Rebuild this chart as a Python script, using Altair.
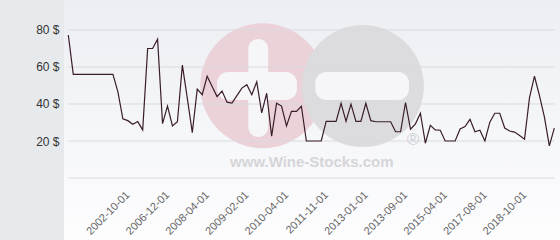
import json
import altair as alt
import pandas as pd

# ---- data ----
prices = [77.3, 56, 56, 56, 56, 56, 56, 56, 56, 56,
          46.6, 32, 31, 29, 30.5, 26, 70, 70, 75, 29.4,
          38.9, 28.1, 30.4, 61, 43, 24.5, 48, 45, 55, 49.5,
          44, 47, 41, 40.5, 44.5, 48.6, 50.4, 45, 52, 35.2,
          45.8, 22.6, 40.4, 38.9, 28.2, 36, 36, 38.8, 20, 20,
          20, 20, 30.6, 30.6, 30.6, 40.4, 30.6, 39.9, 30.6, 30.6,
          40.4, 31, 30.4, 30.4, 30.4, 30.4, 25, 25, 40.8, 26.4,
          29.3, 35, 18.8, 28.5, 26, 25.8, 20, 20, 20, 26.5,
          27.8, 31.7, 25, 25.8, 20, 30.2, 35, 35, 27, 25.4,
          24.8, 23, 21, 43.5, 55, 44.7, 33, 17.4, 27]
x_ticks = [12, 20, 28, 36, 44, 52, 60, 68, 76, 84, 92]
x_labels = ["2002-10-01", "2006-12-01", "2008-04-01", "2009-02-01",
            "2010-04-01", "2011-11-01", "2013-01-01", "2013-09-01",
            "2015-04-01", "2017-08-01", "2018-10-01"]
y_ticks = [20, 40, 60, 80]
grid_values = [0, 20, 40, 60, 80]

df = pd.DataFrame({"i": list(range(len(prices))), "price": prices})
grid_df = pd.DataFrame({"g": grid_values})

W, H = 496, 240
xscale = alt.Scale(domain=[-0.87, 99.15], nice=False, zero=False)
yscale = alt.Scale(domain=[-33.5, 96.2], nice=False, zero=False)

label_expr = f"{json.dumps(x_labels)}[indexof({json.dumps(x_ticks)}, datum.value)]"

x_axis = alt.Axis(
    values=x_ticks, labelExpr=label_expr, labelAngle=-45,
    labelAlign="right", labelBaseline="middle", labelPadding=15,
    labelFont="Liberation Sans", labelFontSize=11, labelColor="#666666",
    domain=False, ticks=False, grid=False, title=None, offset=-62,
    labelOverlap=False, zindex=1)
y_axis = alt.Axis(
    values=y_ticks, labelExpr="datum.value + ' $'", grid=False,
    domain=False, ticks=False, labelPadding=5, labelFont="Liberation Sans",
    labelFontSize=12, labelColor="#333333", title=None)

# ---- plot background (gradient) ----
gradient = alt.LinearGradient(
    gradient="linear",
    stops=[alt.GradientStop(color="#eceef3", offset=0),
           alt.GradientStop(color="#fdfdfe", offset=1)],
    x1=0, x2=0, y1=0, y2=1)
bg = alt.Chart(pd.DataFrame({"k": [0]})).mark_rect(color=gradient)

# ---- watermark (decoration) ----
wm_circles = pd.DataFrame({
    "cx": [39.2, 59.4], "cy": [49.9, 49.7],
    "col": ["#ebd2d8", "#dcdcdf"], "size": [15625, 14884]})
wm_bars = pd.DataFrame({
    "x0": [36.3, 30.0, 49.8], "x1": [40.3, 46.1, 68.7],
    "y0": [22.2, 42.2, 42.2], "y1": [75.1, 57.3, 57.3]})
wm_text = pd.DataFrame({"tx": [49.1], "ty": [5.9], "t": ["www.Wine-Stocks.com"]})
wm_reg = pd.DataFrame({"tx": [69.5], "ty": [20.5], "t": ["®"]})

circles = alt.Chart(wm_circles).mark_circle(opacity=1).encode(
    x=alt.X("cx:Q", scale=xscale, axis=x_axis),
    y=alt.Y("cy:Q", scale=yscale, axis=y_axis),
    color=alt.Color("col:N", scale=None),
    size=alt.Size("size:Q", scale=None),
)
bars = alt.Chart(wm_bars).mark_rect(color="#f6f6f9", cornerRadius=11).encode(
    x=alt.X("x0:Q", scale=xscale, axis=x_axis), x2="x1:Q",
    y=alt.Y("y0:Q", scale=yscale, axis=y_axis), y2="y1:Q",
)
text = alt.Chart(wm_text).mark_text(
    font="Liberation Sans", fontSize=15, fontWeight="bold", color="#d5d5d9",
    align="center", baseline="alphabetic").encode(
    x=alt.X("tx:Q", scale=xscale, axis=x_axis),
    y=alt.Y("ty:Q", scale=yscale, axis=y_axis), text="t:N")
reg = alt.Chart(wm_reg).mark_text(
    font="Liberation Sans", fontSize=17, color="#d0d0d4",
    align="center", baseline="middle").encode(
    x=alt.X("tx:Q", scale=xscale, axis=x_axis),
    y=alt.Y("ty:Q", scale=yscale, axis=y_axis), text="t:N")

# ---- chart ----
grid = alt.Chart(grid_df).mark_rule(color="#d9dadf", strokeWidth=1).encode(
    y=alt.Y("g:Q", scale=yscale, axis=y_axis),
    x=alt.X(datum=0, scale=xscale, axis=x_axis),
    x2=alt.X2(datum=len(prices) - 1),
)

line = alt.Chart(df).mark_line(color="#3a1d2b", strokeWidth=1.2).encode(
    x=alt.X("i:Q", scale=xscale, axis=x_axis),
    y=alt.Y("price:Q", scale=yscale, axis=y_axis),
)

chart = alt.layer(bg, circles, bars, text, reg, grid, line).properties(
    width=W, height=H,
    autosize=alt.AutoSizeParams(type="none"),
    padding={"left": 64, "top": 0, "right": 0, "bottom": 0},
    background="#e7eaed",
).configure_view(stroke="#ffffff", strokeWidth=1)

chart.save("out.html", embed_options={"renderer": "svg", "actions": False})
